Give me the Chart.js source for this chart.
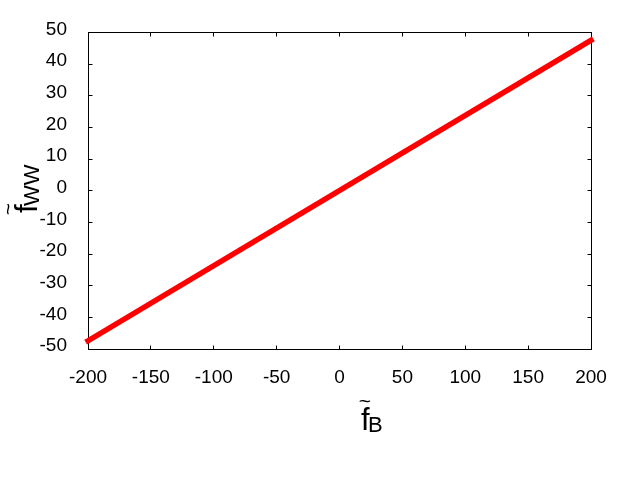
<!DOCTYPE html>
<html>
<head>
<meta charset="utf-8">
<script src="https://cdn.jsdelivr.net/npm/chart.js@4.4.0/dist/chart.umd.min.js"></script>
<style>
    html, body { margin: 0; padding: 0; background: #fff; }
</style>
</head>
<body>
<canvas id="chart" width="640" height="480"></canvas>
<script>
// datos
var xValues = [-200, 200];
var yValues = [-47.4, 47.5];
var xTickValues = [-200, -150, -100, -50, 0, 50, 100, 150, 200];
var yTickValues = [-50, -40, -30, -20, -10, 0, 10, 20, 30, 40, 50];
var xLabelMain = 'f', xLabelSub = 'B';
var yLabelMain = 'f', yLabelSub = 'WW';

var FONT = "'Liberation Sans', Arial, sans-serif";
var TICK_LEN = 4;

// marco con ticks hacia dentro en los cuatro lados (estilo gnuplot)
var framePlugin = {
    id: 'frame',
    beforeDatasetsDraw: function (chart) {
        var ctx = chart.ctx, a = chart.chartArea;
        var xs = chart.scales.x, ys = chart.scales.y;
        var l = Math.floor(a.left) + 0.5, r = Math.floor(a.right) + 0.5;
        var t = Math.floor(a.top) + 0.5, b = Math.floor(a.bottom) + 0.5;
        ctx.save();
        ctx.strokeStyle = '#000';
        ctx.lineWidth = 1;
        ctx.strokeRect(l, t, r - l, b - t);
        ctx.beginPath();
        xTickValues.forEach(function (v) {
            var px = Math.floor(xs.getPixelForValue(v)) + 0.5;
            ctx.moveTo(px, b); ctx.lineTo(px, b - TICK_LEN);
            ctx.moveTo(px, t); ctx.lineTo(px, t + TICK_LEN);
        });
        yTickValues.forEach(function (v) {
            var py = Math.floor(ys.getPixelForValue(v)) + 0.5;
            ctx.moveTo(l, py); ctx.lineTo(l + TICK_LEN, py);
            ctx.moveTo(r, py); ctx.lineTo(r - TICK_LEN, py);
        });
        ctx.stroke();
        ctx.restore();
    },
    afterDraw: function (chart) {
        var ctx = chart.ctx;
        ctx.save();
        ctx.fillStyle = '#000';

        // etiqueta eje x
        drawLabel(ctx, 361, 430, xLabelMain, xLabelSub);

        // etiqueta eje y (girada)
        ctx.translate(37, 213);
        ctx.rotate(-Math.PI / 2);
        drawLabel(ctx, 0, 0, yLabelMain, yLabelSub);
        ctx.restore();
    }
};

// f con tilde y subindice
function drawLabel(ctx, x, y, main, sub) {
    ctx.textAlign = 'left';
    ctx.textBaseline = 'alphabetic';
    ctx.font = '31px ' + FONT;
    ctx.fillText(main, x, y);
    ctx.font = '22px ' + FONT;
    ctx.fillText(sub, x + 7, y + 2);
    ctx.font = '21px ' + FONT;
    ctx.textAlign = 'center';
    ctx.textBaseline = 'middle';
    ctx.fillText('~', x + 4, y - 28);
}

var points = xValues.map(function (x, i) { return {x: x, y: yValues[i]}; });

new Chart(document.getElementById('chart').getContext('2d'), {
    type: 'scatter',
    data: {
        datasets: [{
            data: points,
            showLine: true,
            borderColor: '#ff0000',
            backgroundColor: '#ff0000',
            borderWidth: 5.5,
            borderCapStyle: 'square',
            pointRadius: 0,
            clip: false
        }]
    },
    options: {
        responsive: false,
        animation: false,
        events: [],
        layout: { padding: { top: 32, left: 0, right: 49, bottom: 91 } },
        plugins: { legend: { display: false }, tooltip: { enabled: false } },
        scales: {
            x: {
                type: 'linear',
                min: -200, max: 200,
                grid: { display: false, drawTicks: false },
                border: { display: false },
                afterBuildTicks: function (scale) {
                    scale.ticks = xTickValues.map(function (v) { return {value: v}; });
                },
                afterFit: function (scale) { scale.height = 40; },
                ticks: {
                    color: '#000',
                    font: { family: FONT, size: 19 },
                    padding: 17,
                    maxRotation: 0,
                    autoSkip: false
                }
            },
            y: {
                type: 'linear',
                min: -50, max: 50,
                grid: { display: false, drawTicks: false },
                border: { display: false },
                afterBuildTicks: function (scale) {
                    scale.ticks = yTickValues.map(function (v) { return {value: v}; });
                },
                afterFit: function (scale) { scale.width = 88; },
                ticks: {
                    color: '#000',
                    font: { family: FONT, size: 19 },
                    padding: 21,
                    labelOffset: -3,
                    autoSkip: false
                }
            }
        }
    },
    plugins: [framePlugin]
});
</script>
</body>
</html>
